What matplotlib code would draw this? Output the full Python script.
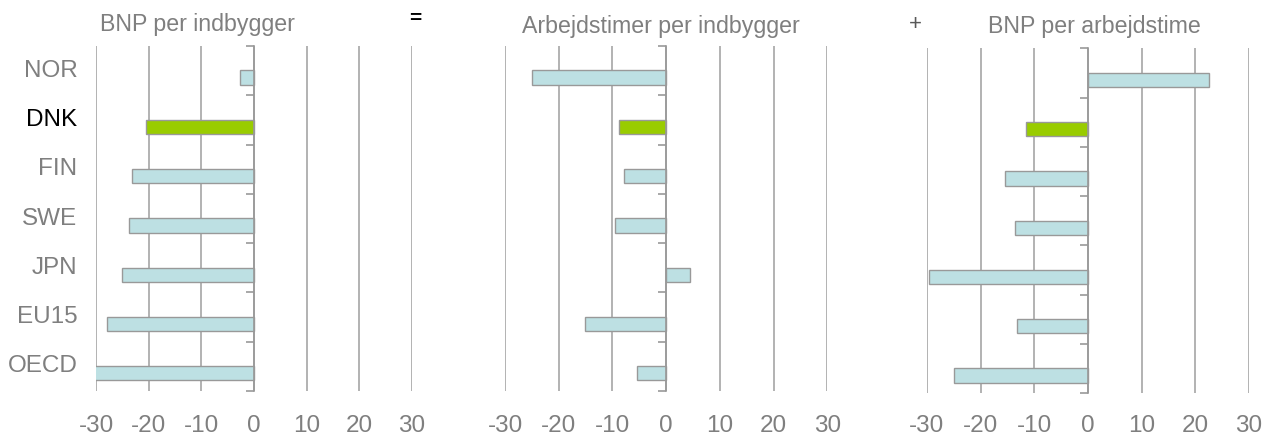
import numpy as np
import matplotlib
matplotlib.use("Agg")
import matplotlib.pyplot as plt
import matplotlib.transforms as mtransforms

plt.rcParams['font.family'] = ['Liberation Sans', 'DejaVu Sans']

countries = ["NOR", "DNK", "FIN", "SWE", "JPN", "EU15", "OECD"]
bnp_indb = [-2.6, -20.5, -23.3, -23.7, -25.2, -27.9, -30.4]
timer_indb = [-25.0, -8.7, -7.9, -9.6, 4.5, -15.2, -5.4]
bnp_time = [22.5, -11.5, -15.4, -13.6, -29.7, -13.2, -24.9]
titles = ["BNP per indbygger", "Arbejdstimer per indbygger", "BNP per arbejdstime"]
xticks = [-30, -20, -10, 0, 10, 20, 30]

grey = "#7f7f7f"
bar_col = "#bde0e3"
dnk_col = "#99cc00"
edge = "#999999"

W, H = 1273, 437
fig = plt.figure(figsize=(W / 100, H / 100), dpi=100)

# axes boxes in pixels (left, right, top, bottom) + tick label pad
boxes = [(96.3, 411.7, 46, 391, 17), (505, 827.3, 46, 391, 17), (927, 1249, 48.3, 393.3, 15.5)]
series = [bnp_indb, timer_indb, bnp_time]

y = np.arange(len(countries))
for k, (l, r, t, b, pad) in enumerate(boxes):
    ax = fig.add_axes([l / W, 1 - b / H, (r - l) / W, (b - t) / H])
    cols = [dnk_col if c == "DNK" else bar_col for c in countries]
    # bars sit a bit below the category centre, like in the original
    ax.barh(y + 0.14, series[k], height=0.29, color=cols, edgecolor=edge, linewidth=1, zorder=3)
    ax.set_xlim(-30, 30)
    ax.set_ylim(len(countries) - 0.5, -0.5)
    ax.set_xticks(xticks)
    ax.set_xticklabels([str(t) for t in xticks], fontsize=17.5, color=grey)
    ax.tick_params(axis='x', length=0, pad=pad)
    ax.grid(axis='x', color="#a6a6a6", linewidth=1.2, zorder=0)
    for s in ["top", "right", "bottom"]:
        ax.spines[s].set_visible(False)
    ax.spines['left'].set_position(('data', 0))
    ax.spines['left'].set_color(edge)
    ax.spines['left'].set_linewidth(1.2)
    ax.spines['left'].set_zorder(4)
    ax.set_yticks(np.arange(-0.5, len(countries), 1))
    ax.set_yticklabels([])
    ax.tick_params(axis='y', direction='out', length=5.5, width=1.2, color=edge)
    if k == 0:
        trans = mtransforms.blended_transform_factory(ax.transAxes, ax.transData)
        for i, c in enumerate(countries):
            ax.text(-0.06, i, c, transform=trans, ha='right', va='center',
                    fontsize=17.5, color="black" if c == "DNK" else grey)

# titles and operators
fig.text(197.5 / W, 1 - 31.5 / H, titles[0], ha='center', va='baseline', fontsize=16.7, color=grey)
fig.text(661 / W, 1 - 33 / H, titles[1], ha='center', va='baseline', fontsize=16.7, color=grey)
fig.text(1094.7 / W, 1 - 33.5 / H, titles[2], ha='center', va='baseline', fontsize=16.7, color=grey)
fig.text(415.7 / W, 1 - 19 / H, "=", ha='center', va='center', fontsize=15, color="black", fontweight='bold')
fig.text(915.7 / W, 1 - 25 / H, "+", ha='center', va='center', fontsize=16, color="#595959")

fig.savefig("out.png", dpi=100)
